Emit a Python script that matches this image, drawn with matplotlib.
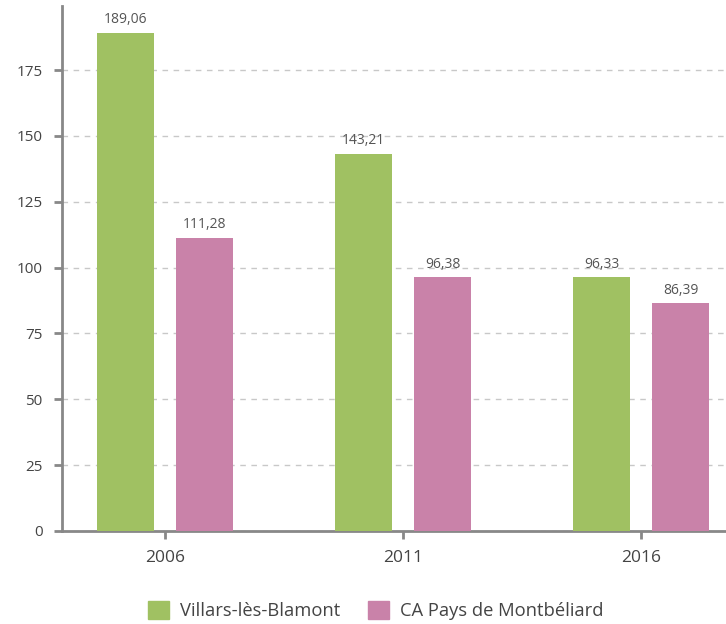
import matplotlib
matplotlib.use("Agg")
import matplotlib.pyplot as plt
from matplotlib.patches import Patch

# données
annees = ["2006", "2011", "2016"]
villars = [189.06, 143.21, 96.33]
ca_montbeliard = [111.28, 96.38, 86.39]
series_noms = ["Villars-lès-Blamont", "CA Pays de Montbéliard"]
couleurs = ["#a0c162", "#c982a9"]
y_ticks = [0, 25, 50, 75, 100, 125, 150, 175]

plt.rcParams['font.family'] = ['Open Sans', 'DejaVu Sans']

fig = plt.figure(figsize=(7.26, 6.24), dpi=100)
ax = fig.add_axes([62 / 726, 1 - 531 / 624, 1 - 62 / 726, (531 - 6) / 624])

x = list(range(len(annees)))
largeur = 0.24
decal = 0.166

def fmt(v):
    return f"{v:.2f}".replace(".", ",")

for valeurs, dx, c in [(villars, -decal, couleurs[0]), (ca_montbeliard, decal, couleurs[1])]:
    pos = [i + dx for i in x]
    ax.bar(pos, valeurs, width=largeur, color=c, zorder=3)
    for p, v in zip(pos, valeurs):
        ax.annotate(fmt(v), (p, v), xytext=(0, 4), textcoords="offset points",
                    ha="center", va="bottom", fontsize=10, color="#555555")

ax.set_xlim(-0.433, 2.357)
ax.set_ylim(0, 199.3)
ax.set_xticks(x)
ax.set_xticklabels(annees)
ax.set_yticks(y_ticks)

ax.yaxis.grid(True, linestyle=(0, (4, 4)), color="#c8c8c8", linewidth=1, zorder=0)
ax.set_axisbelow(True)

for s in ["top", "right"]:
    ax.spines[s].set_visible(False)
for s in ["left", "bottom"]:
    ax.spines[s].set_color("#888888")
    ax.spines[s].set_linewidth(2)

ax.tick_params(axis="both", colors="#888888", length=6, width=2,
               labelcolor="#444444")
ax.tick_params(axis="x", pad=8, labelsize=12.5)
ax.tick_params(axis="y", pad=8, labelsize=11)

poignees = [Patch(color=c) for c in couleurs]
fig.legend(poignees, series_noms, loc="lower center", bbox_to_anchor=(0.518, -0.02),
           ncol=2, frameon=False, fontsize=13.2, handlelength=1.15, handleheight=1.15,
           columnspacing=1.5, handletextpad=0.6, labelcolor="#444444")

fig.savefig("out.png", dpi=100)
